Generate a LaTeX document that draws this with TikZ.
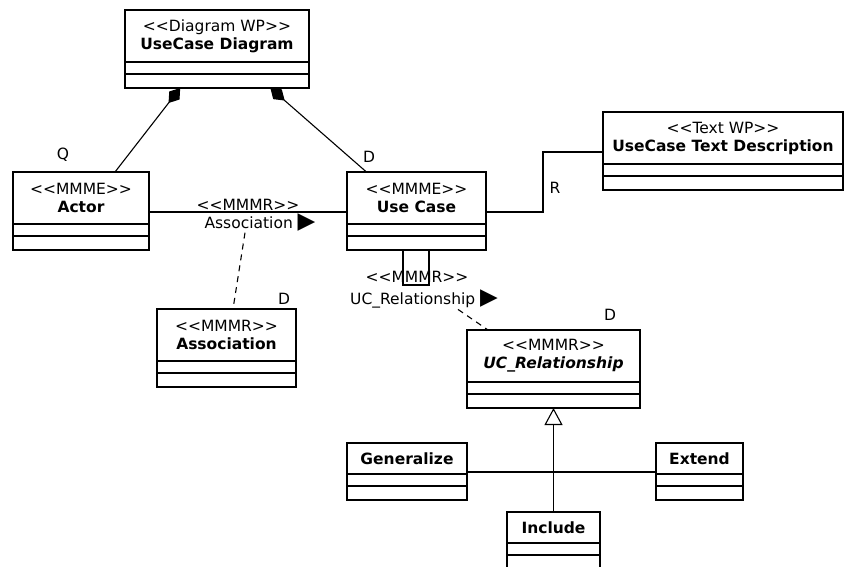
\documentclass[tikz,border=0pt]{standalone}
\usepackage{fontspec}
\setmainfont{DejaVu Sans}
\usetikzlibrary{arrows.meta}
\usetikzlibrary{calc}
\usetikzlibrary{positioning}

\newcommand{\stereo}[1]{<{}<#1>{}>}
\newcommand{\play}{{\fontsize{23}{18}\selectfont ▶}}

\tikzset{
  classhead/.style={shape=rectangle, draw, line width=1.1pt,
    inner sep=0pt, outer sep=0pt, anchor=north west,
    minimum height=52pt, align=center},
  compline/.style={line width=1.1pt},
  outline/.style={line width=2.8pt},
  conn/.style={line width=1.1pt},
  linklbl/.style={inner sep=1pt},
  role/.style={inner sep=0pt}
}

\begin{document}
\begin{tikzpicture}[x=1pt, y=-1pt,
    font=\fontsize{15.5}{18}\selectfont]
    \path[use as bounding box, fill=white] (0,0) rectangle (849,566);

    \node[name=diagram,
      classhead,
      minimum width=184pt] at (125,10) {\stereo{Diagram WP}\\\textbf{UseCase Diagram}};

    \node[name=actor,
      classhead,
      minimum width=136pt] at (13,172) {\stereo{MMME}\\\textbf{Actor}};

    \node[name=usecase,
      classhead,
      minimum width=139pt] at (347,172) {\stereo{MMME}\\\textbf{Use Case}};

    \node[name=textdesc,
      classhead,
      minimum width=240pt] at (603,112) {\stereo{Text WP}\\\textbf{UseCase Text Description}};

    \node[name=assoc,
      classhead,
      minimum width=139pt] at (157,309) {\stereo{MMMR}\\\textbf{Association}};

    \node[name=ucrel,
      classhead,
      minimum width=173pt] at (467,330) {\stereo{MMMR}\\\textbf{\textit{UC\_Relationship}}};

    \node[name=generalize,
      classhead,
      minimum height=31pt,
      minimum width=120pt] at (347,443) {\textbf{Generalize}};

    \node[name=extend,
      classhead,
      minimum height=31pt,
      minimum width=87pt] at (656,443) {\textbf{Extend}};

    \node[name=include,
      classhead,
      minimum height=31pt,
      minimum width=93pt] at (507,512) {\textbf{Include}};

    % empty compartments and the heavy frame
    \foreach \n in {diagram,actor,usecase,textdesc,assoc,ucrel,generalize,extend,include} {
      \draw[compline] ([yshift=-12pt]\n.south west) -- ([yshift=-12pt]\n.south east);
      \draw[outline] (\n.north west) rectangle ([yshift=-26pt]\n.south east);
    }

    % composition
    \draw[conn, {Diamond[length=19pt,width=13pt]}-]
      ($(diagram.south west)!0.3!(diagram.south east)+(0,26)$) --
      ($(actor.north west)!0.75!(actor.north east)$);
    \draw[conn, {Diamond[length=19pt,width=13pt]}-]
      ($(diagram.south west)!0.79!(diagram.south east)+(0,26)$) --
      ($(usecase.north west)!0.14!(usecase.north east)$);

    \node[name=qlbl, role] at ($(actor.north west)+(50,-17)$) {Q};
    \node[name=dlbl, role] at ($(usecase.north west)+(22,-15)$) {D};

    % association
    \draw[conn] ([yshift=12pt]actor.south east) -- ([yshift=12pt]usecase.south west)
      node[name=assocst, linklbl, midway, above] {\stereo{MMMR}}
      node[name=assoclbl, linklbl, midway, below, xshift=12pt] {Association \play};
    \draw[conn, dash pattern=on 6pt off 5pt]
      ([xshift=-15pt]assoclbl.south) -- ([xshift=6.5pt]assoc.north);
    \node[name=dassoc, role] at ($(assoc.north east)+(-12,-10)$) {D};

    % relationship on itself
    \draw[conn] ($(usecase.south west)+(56,26)$) -- ++(0,35)
      -| ($(usecase.south west)+(82,26)$);
    \node[name=loopst, linklbl] at (417,277) {\stereo{MMMR}};
    \node[name=looplbl, linklbl] at (424,299) {UC\_Relationship \play};
    \draw[conn, dash pattern=on 6pt off 5pt]
      ([xshift=34pt]looplbl.south) -- ([xshift=-65.5pt]ucrel.north);
    \node[name=ducrel, role] at ($(ucrel.north east)+(-30,-15)$) {D};

    % text description
    \draw[conn] ([yshift=12pt]usecase.south east) -- ++(57,0)
      |- ([yshift=12pt]textdesc.south west)
      node[name=rlbl, role, pos=0.2, right=6pt] {R};

    % inheritance
    \draw[conn, -{Triangle[open,length=17pt,width=18pt]}]
      (include.north) -- ($(ucrel.south)+(0,26)$);
    \draw[conn] ([yshift=2pt]generalize.south east) -- ([yshift=2pt]extend.south west);
  \end{tikzpicture}
\end{document}
